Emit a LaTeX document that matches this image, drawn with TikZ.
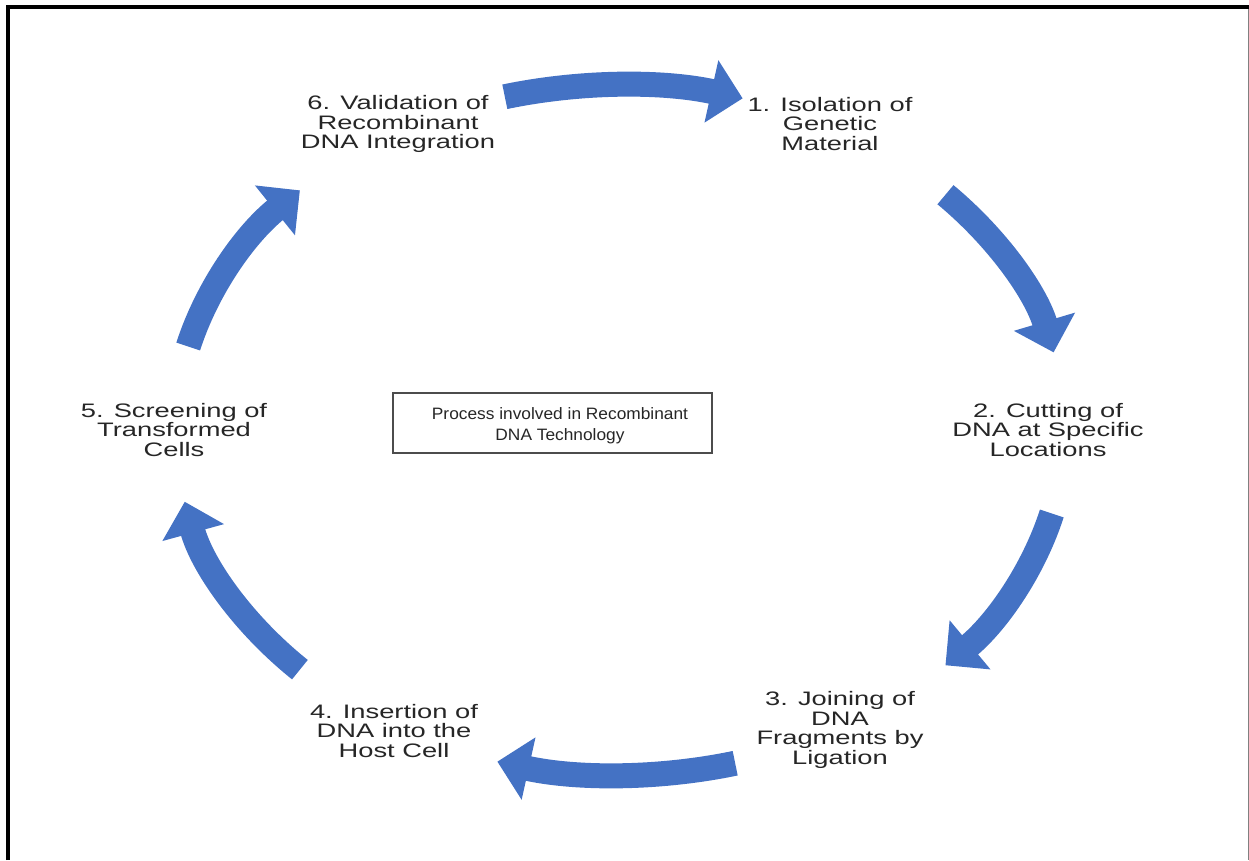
\documentclass[tikz,border=0pt]{standalone}
\usepackage{fontspec}
\setmainfont{Liberation Sans}
\newfontfamily\labelfont[FakeStretch=1.4]{Liberation Sans}
\newfontfamily\boxfont[FakeStretch=1.05]{Liberation Sans}
\usetikzlibrary{arrows.meta}
\definecolor{cycleblue}{RGB}{68,114,196}
\tikzset{
  steparrow/.style={line width=25pt, cycleblue, -{Triangle[width=62pt,length=32pt]}},
  steplabel/.style={align=center, inner sep=0pt, text=black!85,
                    font=\labelfont\fontsize{19.5}{19.5}\selectfont},
  titletext/.style={align=center, inner sep=0pt, text=black!85,
                    font=\boxfont\fontsize{16.5}{21.5}\selectfont}
}
\begin{document}
\begin{tikzpicture}[x=1pt, y=1pt]
  \useasboundingbox (0,0) rectangle (1249,860);
  % frame
  \draw[line width=4pt] (8,0) -- (8,853) -- (1249,853);
  \draw[gray, line width=1pt] (1248,851) -- (1248,0);
  % cycle centre
  \coordinate (hub) at (620,430);
  % steps
  \node[steplabel] (iso)  at (830,736)  {1. Isolation of\\Genetic\\Material};
  \node[steplabel] (cut)  at (1048,430) {2. Cutting of\\DNA at Specific\\Locations};
  \node[steplabel] (join) at (840,130)  {3. Joining of\\DNA\\Fragments by\\Ligation};
  \node[steplabel] (ins)  at (394,129)  {4. Insertion of\\DNA into the\\Host Cell};
  \node[steplabel] (scr)  at (174,430)  {5. Screening of\\Transformed\\Cells};
  \node[steplabel] (val)  at (398,736)  {6. Validation of\\Recombinant\\DNA Integration};
  % title in the middle
  \draw[black!70, line width=1.5pt] (393,407) rectangle (712,467);
  \node[titletext] (title) at (560,434.5) {Process involved in Recombinant\\DNA Technology};
  % arrows between the steps
  \draw[steparrow] ([shift={(105:445 and 345)}]hub) arc[start angle=105, end angle=74, x radius=445, y radius=345];
  \draw[steparrow] ([shift={(43:445 and 345)}]hub)  arc[start angle=43,  end angle=13, x radius=445, y radius=345];
  \draw[steparrow] ([shift={(-14:445 and 345)}]hub) arc[start angle=-14, end angle=-43, x radius=445, y radius=345];
  \draw[steparrow] ([shift={(-75:445 and 345)}]hub) arc[start angle=-75, end angle=-106, x radius=445, y radius=345];
  \draw[steparrow] ([shift={(224:445 and 345)}]hub) arc[start angle=224, end angle=192, x radius=445, y radius=345];
  \draw[steparrow] ([shift={(166:445 and 345)}]hub) arc[start angle=166, end angle=136, x radius=445, y radius=345];
\end{tikzpicture}
\end{document}
